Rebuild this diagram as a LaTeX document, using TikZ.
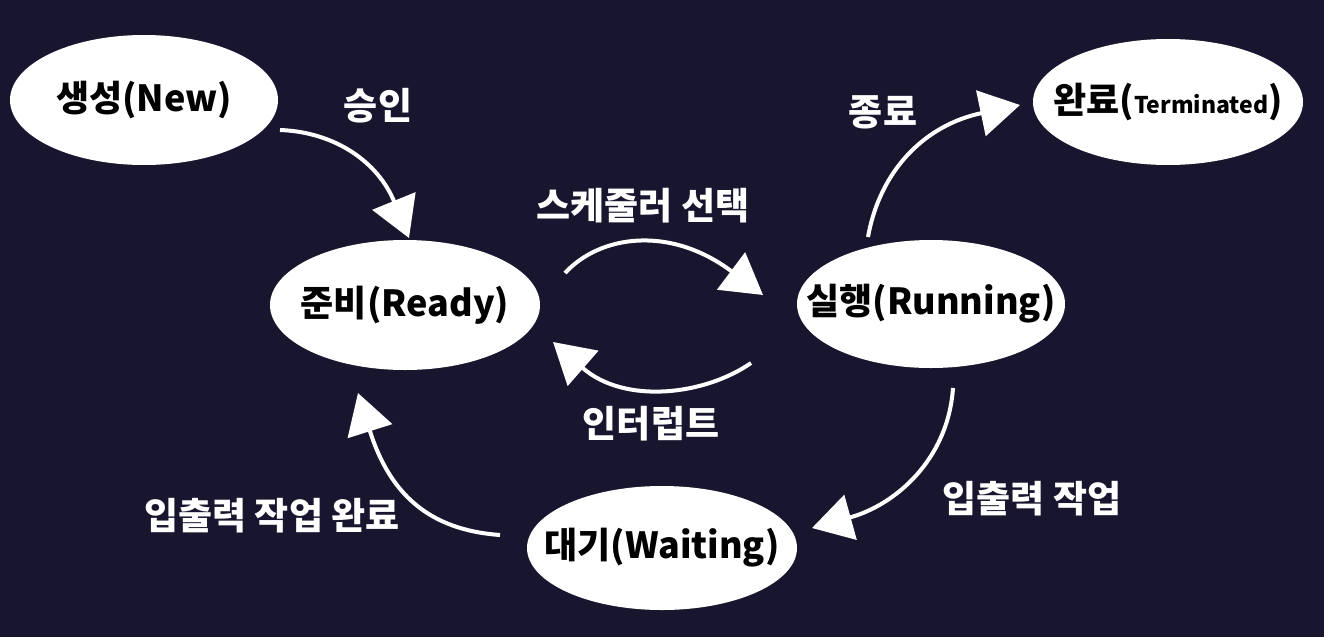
\documentclass[tikz,border=0pt]{standalone}
\usepackage{fontspec}
\setmainfont{Noto Sans CJK KR}
\usetikzlibrary{arrows.meta,shapes.geometric}
\definecolor{bg}{RGB}{23,22,46}
\newcommand{\nodefont}{\bfseries\fontsize{36}{42}\selectfont}
\tikzset{
  state/.style={ellipse, fill=white, text=black, inner sep=0pt, font=\nodefont},
  lbl/.style={text=white, font=\bfseries\fontsize{37}{42}\selectfont},
  flow/.style={draw=white, line width=4pt, -{Triangle[length=40pt,width=46pt]}, fill=none}
}
\begin{document}
\begin{tikzpicture}[x=1pt,y=-1pt]
\fill[bg] (0,0) rectangle (1324,637);
\useasboundingbox (0,0) rectangle (1324,637);
% states
\node[state, minimum width=268pt, minimum height=130pt] (new) at (144,100) {\makebox[0pt]{생성(New)}};
\node[state, minimum width=270pt, minimum height=126pt] (term) at (1168,102) {\makebox[0pt]{완료(\fontsize{23}{26}\selectfont Terminated\nodefont)}};
\node[state, minimum width=270pt, minimum height=130pt] (ready) at (405,305) {\makebox[0pt]{준비(Ready)}};
\node[state, minimum width=268pt, minimum height=128pt] (run) at (931,304) {\makebox[0pt]{실행(Running)}};
\node[state, minimum width=270pt, minimum height=124pt] (wait) at (662,548) {\makebox[0pt]{대기(Waiting)}};
% labels
\node[lbl] (l1) at (378,106) {승인};
\node[lbl] (l2) at (643,206) {스케줄러 선택};
\node[lbl] (l3) at (883,112) {종료};
\node[lbl] (l4) at (651,424) {인터럽트};
\node[lbl] (l5) at (1032,499) {입출력 작업};
\node[lbl] (l6) at (272,516) {입출력 작업 완료};
% connector end points
\coordinate (a1) at (280,130); \coordinate (b1) at (409,238);
\coordinate (a2) at (565,273); \coordinate (b2) at (763,295);
\coordinate (a3) at (751,363); \coordinate (b3) at (553,342);
\coordinate (a4) at (868,237); \coordinate (b4) at (1020,105);
\coordinate (a5) at (953,388); \coordinate (b5) at (812,528);
\coordinate (a6) at (500,535); \coordinate (b6) at (358,393);
\draw[flow] (a1) .. controls (335,132) and (378,162) .. (b1);
\draw[flow] (a2) .. controls (600,235) and (670,225) .. (b2);
\draw[flow] (a3) .. controls (705,395) and (625,405) .. (b3);
\draw[flow] (a4) .. controls (880,170) and (925,125) .. (b4);
\draw[flow] (a5) .. controls (948,460) and (895,505) .. (b5);
\draw[flow] (a6) .. controls (430,530) and (390,495) .. (b6);
\end{tikzpicture}
\end{document}
